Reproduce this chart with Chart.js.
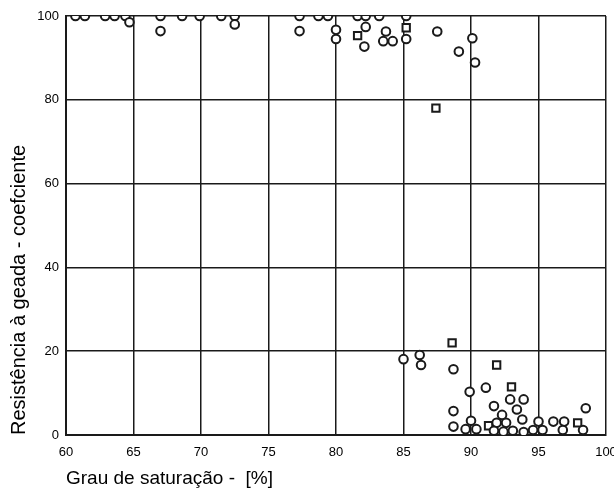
<!DOCTYPE html>
<html>
<head>
<meta charset="utf-8">
<script src="https://cdn.jsdelivr.net/npm/chart.js@4"></script>
<style>
  html, body { margin: 0; padding: 0; background: #fff; }
  #wrap { width: 614px; height: 491px; position: relative; }
</style>
</head>
<body>
<div id="wrap"><canvas id="c"></canvas></div>
<script>
// Grau de saturação [%] (x) vs Resistência à geada (y)
const circlesX = [60.7, 61.4, 62.9, 63.6, 64.4, 64.7, 67.0, 67.0, 68.6, 69.9, 71.5, 72.5, 72.5,
  77.3, 77.3, 78.7, 79.4, 80.0, 80.0, 81.6, 82.2, 82.2, 82.1, 83.2, 83.7, 83.5, 84.2, 85.2, 85.2,
  87.5, 89.1, 90.1, 90.3,
  85.0, 86.2, 86.3, 88.7, 89.9, 91.1, 88.7, 90.0, 88.7, 89.6, 90.4, 91.7, 92.9, 93.9, 93.4, 92.3,
  93.8, 91.9, 92.6, 91.7, 92.4, 93.1, 93.9, 94.6, 95.0, 95.3, 96.1, 96.9, 96.8, 98.3, 98.5];
const circlesY = [100, 100, 100, 100, 100, 98.5, 100, 96.4, 100, 100, 100, 100, 98.0,
  100, 96.4, 100, 100, 96.7, 94.5, 100, 100, 97.4, 92.7, 100, 96.3, 94.0, 94.0, 100, 94.5,
  96.3, 91.5, 94.7, 88.9,
  18.1, 19.1, 16.7, 15.7, 10.3, 11.3, 5.7, 3.4, 2.0, 1.4, 1.4, 6.9, 8.5, 8.5, 6.1, 4.8,
  3.7, 2.9, 2.9, 1.0, 0.8, 1.0, 0.7, 1.2, 3.2, 1.2, 3.2, 3.2, 1.2, 1.2, 6.4];
const squaresX = [81.6, 85.2, 87.4, 88.6, 91.3, 91.9, 93.0, 97.9];
const squaresY = [95.3, 97.2, 78.0, 22.0, 2.2, 16.7, 11.5, 2.9];

const xTicks = [60, 65, 70, 75, 80, 85, 90, 95, 100];
const yTicks = [0, 20, 40, 60, 80, 100];
const xTitle = 'Grau de saturação -  [%]';
const yTitle = 'Resistência à geada - coefciente';

const toPts = (xs, ys) => xs.map((x, i) => ({ x: x, y: ys[i] }));
const ink = '#1a1a1a';
const FONT = '"Liberation Sans", Arial, sans-serif';

new Chart(document.getElementById('c'), {
  type: 'scatter',
  data: {
    datasets: [
      { data: toPts(circlesX, circlesY), pointStyle: 'circle', pointRadius: 4.3,
        backgroundColor: '#fff', borderColor: ink, borderWidth: 2 },
      { data: toPts(squaresX, squaresY), pointStyle: 'rect', pointRadius: 5.2,
        backgroundColor: '#fff', borderColor: ink, borderWidth: 2 }
    ]
  },
  options: {
    responsive: true,
    maintainAspectRatio: false,
    animation: false,
    events: [],
    layout: { padding: { top: 16, right: 8, left: 0, bottom: 0 } },
    plugins: { legend: { display: false }, tooltip: { enabled: false } },
    scales: {
      x: {
        type: 'linear', min: 60, max: 100,
        afterBuildTicks: s => { s.ticks = xTicks.map(v => ({ value: v })); },
        afterFit: s => { s.height = 56; s.paddingLeft = 0; s.paddingRight = 0; },
        grid: { color: ink, lineWidth: 1.5, drawTicks: false },
        border: { color: ink, width: 2 },
        ticks: { color: '#000', font: { family: FONT, size: 13 }, padding: 10, maxRotation: 0, autoSkip: false },
        title: { display: true, text: xTitle, align: 'start', color: '#000',
          font: { family: FONT, size: 19 }, padding: { top: 0, bottom: 1 } }
      },
      y: {
        type: 'linear', min: 0, max: 100,
        afterBuildTicks: s => { s.ticks = yTicks.map(v => ({ value: v })); },
        afterFit: s => { s.width = 66; s.paddingTop = 0; s.paddingBottom = 0; },
        grid: { color: ink, lineWidth: 1.5, drawTicks: false },
        border: { color: ink, width: 2 },
        ticks: { color: '#000', font: { family: FONT, size: 13 }, padding: 7, autoSkip: false },
        title: { display: true, text: yTitle, align: 'start', color: '#000',
          font: { family: FONT, size: 20 }, padding: { top: 7, bottom: 0 } }
      }
    }
  }
});
</script>
</body>
</html>
